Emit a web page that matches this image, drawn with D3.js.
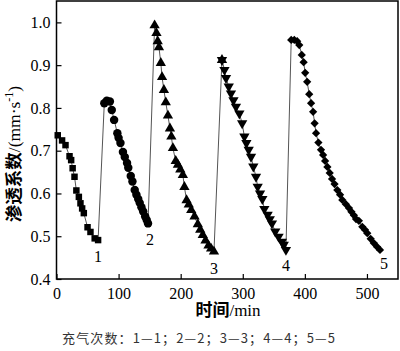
<!DOCTYPE html>
<html><head><meta charset="utf-8">
<script src="https://cdn.jsdelivr.net/npm/d3@7"></script>
<style>body{margin:0;background:#fff}svg{display:block}</style>
</head><body>
<svg id="c" width="400" height="351"></svg>
<script>
// Data (time in min, permeability coefficient in mm/s)
const seg1T = [2,9,14.5,21,23.6,26,29,32,36,38.6,41.3,44,50,54.7,61.5,67];
const seg1V = [0.736,0.724,0.713,0.687,0.678,0.659,0.639,0.607,0.592,0.577,0.565,0.554,0.521,0.510,0.495,0.491];
const seg2T = [77,81,86,89,92.8,98,100,103,107,110,113.6,115.6,119.6,122.3,126,128.7,131.6,134,136.8,139.6,142.8,145.3,147.4];
const seg2V = [0.811,0.817,0.815,0.795,0.772,0.741,0.730,0.718,0.697,0.685,0.671,0.660,0.641,0.628,0.608,0.597,0.587,0.578,0.568,0.558,0.546,0.538,0.530];
const seg3T = [158,161,163,165,168,170,173,176,179.5,182.7,185,187.5,192,195.5,199.4,203.5,206,209.5,213,217,222.3,227.6,231.5,235.6,240,244.8,249,253.6];
const seg3V = [0.993,0.975,0.956,0.942,0.905,0.872,0.842,0.813,0.782,0.752,0.733,0.706,0.676,0.667,0.656,0.643,0.615,0.584,0.574,0.561,0.546,0.528,0.515,0.503,0.490,0.478,0.471,0.464];
const seg4T = [266.5,270.5,273,277.4,281,285,289,294.5,299,302.6,305.8,309.5,313.3,317,321.3,324,327.8,331.5,334.7,340,343.5,347,352.3,357.6,363,366,369.5];
const seg4V = [0.912,0.889,0.870,0.850,0.834,0.818,0.803,0.787,0.764,0.733,0.718,0.702,0.686,0.663,0.639,0.616,0.600,0.587,0.564,0.550,0.540,0.530,0.511,0.499,0.487,0.480,0.468];
const seg5T = [378,383,387.6,391,395,398,400.5,403.7,407,410,413.3,415.7,418,421.8,426,429.4,432.6,436.3,440,443.8,447.8,452.3,456.7,460.3,466,471,475,479,482.4,487,492.5,496.8,500.5,506,511,516.5,521];
const seg5V = [0.959,0.959,0.956,0.947,0.924,0.907,0.882,0.861,0.832,0.811,0.791,0.764,0.741,0.719,0.702,0.690,0.676,0.662,0.648,0.634,0.622,0.608,0.597,0.585,0.575,0.566,0.557,0.549,0.540,0.536,0.522,0.515,0.507,0.494,0.484,0.475,0.468];
const segLabels = ["1","2","3","4","5"];
const xTicks = [0,100,200,300,400,500];
const yTicks = [0.4,0.5,0.6,0.7,0.8,0.9,1.0];

const segs = [
  {t:seg1T, v:seg1V, sym:d3.symbolSquare, size:42, rot:0},
  {t:seg2T, v:seg2V, sym:d3.symbolCircle, size:56, rot:0},
  {t:seg3T, v:seg3V, sym:d3.symbolTriangle, size:46, rot:0},
  {t:seg4T, v:seg4V, sym:d3.symbolTriangle, size:46, rot:180},
  {t:seg5T, v:seg5V, sym:d3.symbolSquare, size:34, rot:45}
];

const svg = d3.select("#c");
const L = 56.5, R = 398, T = 1, B = 279;
const x = d3.scaleLinear().domain([0,550]).range([L,R]);
const y = d3.scaleLinear().domain([0.4,1.05]).range([B,T]);
const serif = "'Liberation Serif','Times New Roman',serif";

// frame
svg.append("rect").attr("x",L).attr("y",T).attr("width",R-L).attr("height",B-T)
  .attr("fill","none").attr("stroke","#000").attr("stroke-width",1.5);

// axes (inward ticks)
const xa = svg.append("g").attr("transform",`translate(0,${B})`)
  .call(d3.axisBottom(x).tickValues(xTicks).tickSizeInner(-5).tickSizeOuter(0).tickPadding(9).tickFormat(d3.format("d")));
const ya = svg.append("g").attr("transform",`translate(${L},0)`)
  .call(d3.axisLeft(y).tickValues(yTicks).tickSizeInner(-5).tickSizeOuter(0).tickPadding(6).tickFormat(d3.format(".1f")));
[xa,ya].forEach(g=>{
  g.select(".domain").remove();
  g.selectAll("line").attr("stroke","#000").attr("stroke-width",1.2);
  g.selectAll("text").attr("font-family",serif).attr("font-size",16).attr("fill","#000");
});

// connecting line through all points
const all = [];
segs.forEach(s=>s.t.forEach((t,i)=>all.push([t,s.v[i]])));
svg.append("path").datum(all)
  .attr("d",d3.line().x(d=>x(d[0])).y(d=>y(d[1])))
  .attr("fill","none").attr("stroke","#555").attr("stroke-width",1);

// markers
segs.forEach(s=>{
  const pts = s.t.map((t,i)=>[t,s.v[i]]);
  svg.append("g").selectAll("path").data(pts).join("path")
    .attr("d",d3.symbol().type(s.sym).size(s.size))
    .attr("transform",d=>`translate(${x(d[0])},${y(d[1])}) rotate(${s.rot})`)
    .attr("fill","#000");
});
// hexagram look at peak of series 4
svg.append("path").datum([seg4T[0],seg4V[0]])
  .attr("d",d3.symbol().type(d3.symbolTriangle).size(46))
  .attr("transform",d=>`translate(${x(d[0])},${y(d[1])})`).attr("fill","#000");

// segment labels near the end of each segment
segs.forEach((s,i)=>{
  const n = s.t.length-1;
  svg.append("text").attr("x",x(s.t[n])+[0,2,0,0,4][i]).attr("y",y(s.v[n])+[22,22,22,21,19][i])
    .attr("text-anchor","middle").attr("font-family",serif).attr("font-size",16).text(segLabels[i]);
});

// axis titles
const yt = svg.append("text").attr("transform","translate(20,154) rotate(-90)")
  .attr("text-anchor","middle").attr("font-size",17.5);
yt.append("tspan").attr("font-family","'Noto Sans CJK SC'").attr("font-weight","bold").text("渗透系数");
yt.append("tspan").attr("font-family",serif).text("/(mm·s");
yt.append("tspan").attr("font-family",serif).attr("font-size",12).attr("dy",-7).text("-1");
yt.append("tspan").attr("font-family",serif).attr("dy",7).text(")");

const xt = svg.append("text").attr("x",228).attr("y",316).attr("text-anchor","middle").attr("font-size",17);
xt.append("tspan").attr("font-family","'Noto Sans CJK SC'").attr("font-weight","bold").text("时间");
xt.append("tspan").attr("font-family",serif).text("/min");

svg.append("text").attr("x",62).attr("y",343).attr("font-size",13).attr("fill","#333")
  .attr("textLength",273).attr("lengthAdjust","spacing")
  .attr("font-family","'Noto Sans CJK SC'").text("充气次数：1—1；2—2；3—3；4—4；5—5");
</script>
</body></html>
